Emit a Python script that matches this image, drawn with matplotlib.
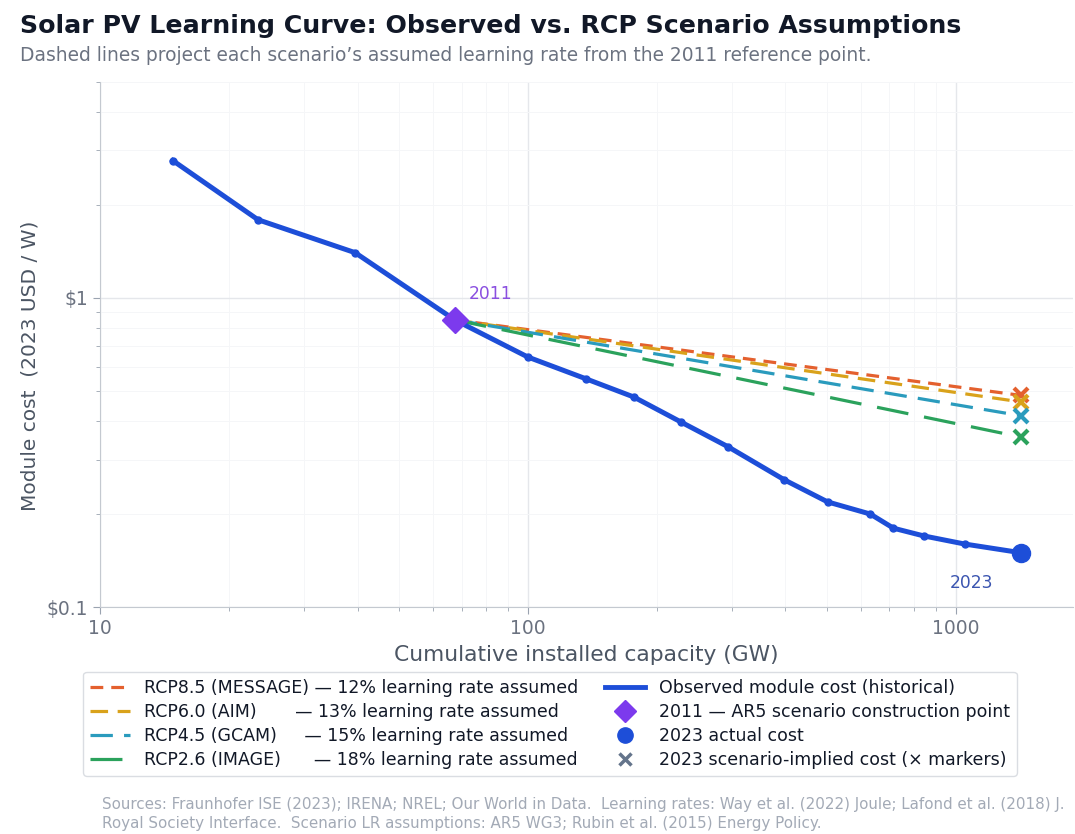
import numpy as np
import matplotlib.pyplot as plt
from matplotlib.lines import Line2D
from matplotlib.ticker import NullFormatter

# Beobachtete Modulkosten (kumulierte Leistung in GW, Kosten in USD/W, 2023-Dollar)
years = [2008, 2009, 2010, 2011, 2012, 2013, 2014, 2015, 2016, 2017,
         2018, 2019, 2020, 2021, 2022, 2023]
capacity_gw = [14.8, 23.4, 39.5, 67.5, 100, 137, 177, 228, 294, 398,
               502, 632, 716, 842, 1050, 1420]
module_cost = [2.78, 1.79, 1.40, 0.849, 0.644, 0.547, 0.478, 0.397, 0.330,
               0.258, 0.219, 0.200, 0.180, 0.170, 0.160, 0.150]

# Szenarien (Startpunkt 2011, Endpunkt 2023)
scenario_labels = ["RCP8.5 (MESSAGE) \u2014 12% learning rate assumed",
                   "RCP6.0 (AIM)       \u2014 13% learning rate assumed",
                   "RCP4.5 (GCAM)     \u2014 15% learning rate assumed",
                   "RCP2.6 (IMAGE)      \u2014 18% learning rate assumed"]
scenario_lr = [0.12, 0.13, 0.15, 0.18]
scenario_cost_2023 = [0.484, 0.461, 0.416, 0.355]
scenario_colors = ["#e4602e", "#d9a21b", "#2a9bbd", "#2ba25c"]
scenario_dashes = [(4, 2.5), (5.5, 3), (7, 3.5), (10, 5)]

blue = "#1d4ed8"
purple = "#7c3aed"

fig = plt.figure(figsize=(10.75, 8.34), dpi=100)
ax = fig.add_axes([0.093, 0.272, 0.905, 0.63])

x0, y0 = capacity_gw[3], module_cost[3]
x1 = capacity_gw[-1]
for c_end, col, dsh in zip(scenario_cost_2023, scenario_colors, scenario_dashes):
    ax.plot([x0, x1], [y0, c_end], color=col, lw=2.3, dashes=dsh, zorder=2)
    ax.plot([x1], [c_end], marker="x", ms=10, mew=3, color=col, ls="none", zorder=4)

ax.plot(capacity_gw, module_cost, color=blue, lw=3.6, marker="o", ms=5, zorder=3)
ax.plot([x0], [y0], marker="D", ms=13, color=purple, ls="none", zorder=5)
ax.plot([x1], [module_cost[-1]], marker="o", ms=13, color=blue, ls="none", zorder=5)

ax.annotate("2011", (x0, y0), xytext=(14, 26), textcoords="offset pixels",
            color="#8a4fe0", fontsize=12.3, ha="left", va="center")
ax.annotate("2023", (x1, module_cost[-1]), xytext=(-27, -30), textcoords="offset pixels",
            color="#3b55b0", fontsize=12.3, ha="right", va="center")

ax.set_xscale("log")
ax.set_yscale("log")
ax.set_xlim(10, 1880)
ax.set_ylim(0.1, 5)

ax.set_xticks([10, 100, 1000])
ax.set_xticklabels(["10", "100", "1000"])
ax.set_yticks([0.1, 1])
ax.set_yticklabels(["$0.1", "$1"])
ax.yaxis.set_minor_formatter(NullFormatter())
ax.xaxis.set_minor_formatter(NullFormatter())
ax.tick_params(axis="both", which="major", labelsize=13.5, colors="#9aa3b0",
               labelcolor="#6b7280", length=5)
ax.tick_params(axis="both", which="minor", colors="#9aa3b0", length=3)

ax.grid(True, which="major", color="#e5e7eb", lw=1)
ax.grid(True, which="minor", color="#f5f6f8", lw=0.7)
ax.set_axisbelow(True)
for s in ["top", "right"]:
    ax.spines[s].set_visible(False)
for s in ["left", "bottom"]:
    ax.spines[s].set_color("#c4c9d0")

ax.set_xlabel("Cumulative installed capacity (GW)", fontsize=15.7, color="#4b5563", labelpad=5)
ax.set_ylabel("Module cost  (2023 USD / W)", fontsize=14.5, color="#4b5563")
ax.yaxis.set_label_coords(-0.062, 0.46)

# Legende
handles = []
for lab, col, dsh in zip(scenario_labels, scenario_colors, scenario_dashes):
    handles.append(Line2D([], [], color=col, lw=2.3, dashes=dsh, label=lab))
handles += [
    Line2D([], [], color=blue, lw=3.5, label="Observed module cost (historical)"),
    Line2D([], [], color=purple, marker="D", ms=11, ls="none",
           label="2011 \u2014 AR5 scenario construction point"),
    Line2D([], [], color=blue, marker="o", ms=11, ls="none", label="2023 actual cost"),
    Line2D([], [], color="#64748b", marker="x", ms=9, mew=2.5, ls="none",
           label="2023 scenario-implied cost (\u00d7 markers)"),
]
leg = fig.legend(handles=handles, ncol=2, loc="upper center",
                 bbox_to_anchor=(0.5116, 0.205), fontsize=12.5, frameon=True,
                 handlelength=2.3, columnspacing=1.55, labelspacing=0.35,
                 borderpad=0.4, fancybox=True)
leg.get_frame().set_edgecolor("#d1d5db")
for t in leg.get_texts():
    t.set_color("#111827")

fig.text(0.019, 0.969, "Solar PV Learning Curve: Observed vs. RCP Scenario Assumptions",
         fontsize=18.2, fontweight="bold", color="#111827", va="center")
fig.text(0.019, 0.934, "Dashed lines project each scenario\u2019s assumed learning rate from the 2011 reference point.",
         fontsize=13.4, color="#6b7280", va="center")
fig.text(0.095, 0.0444,
         "Sources: Fraunhofer ISE (2023); IRENA; NREL; Our World in Data.  Learning rates: Way et al. (2022) Joule; Lafond et al. (2018) J.\n"
         "Royal Society Interface.  Scenario LR assumptions: AR5 WG3; Rubin et al. (2015) Energy Policy.",
         fontsize=10.9, color="#a3aab6", va="top", linespacing=1.3)

fig.savefig("out.png", dpi=100)
